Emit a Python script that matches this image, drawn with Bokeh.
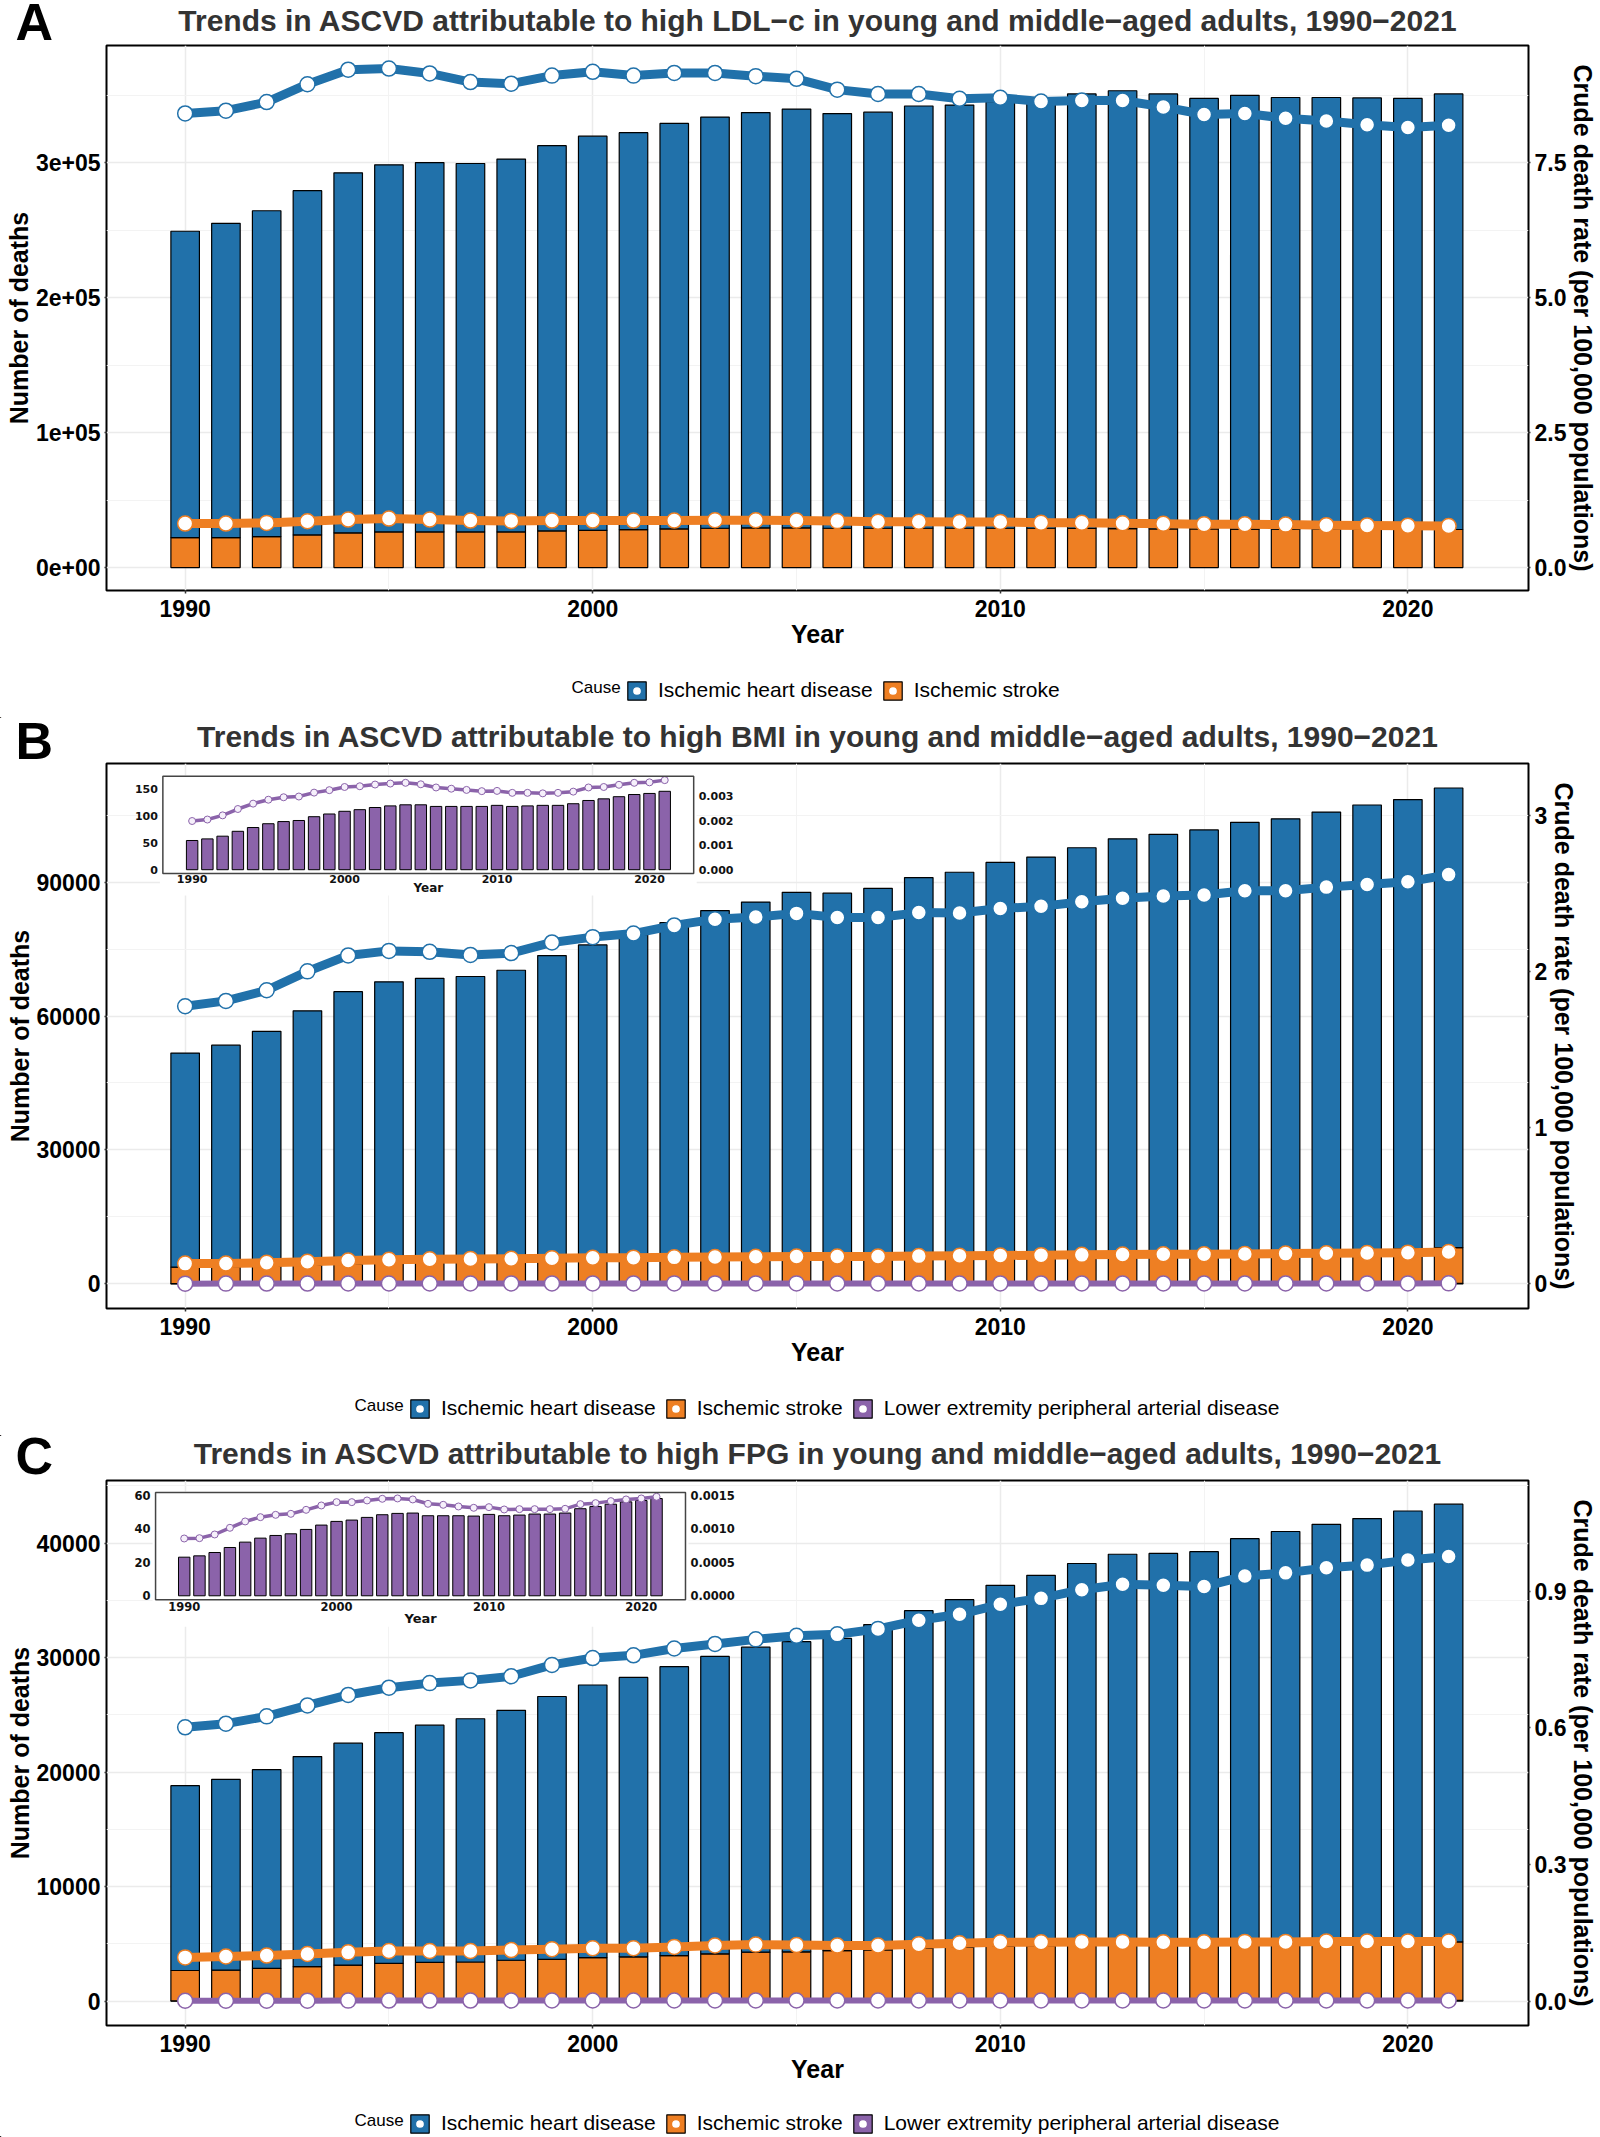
from bokeh.plotting import figure
from bokeh.layouts import column
from bokeh.models import (ColumnDataSource, Range1d, LinearAxis, FixedTicker,
                          Legend, LegendItem, Plot)
from bokeh.core.properties import value
from bokeh.embed import file_html
from bokeh.resources import INLINE

# ---------------------------------------------------------------- data
years = list(range(1990, 2022))

# A: high LDL-c
ldl_ihd_deaths = [226900, 232800, 241400, 255000, 266700, 271900, 273600, 272900,
                  276200, 285400, 291900, 294000, 300400, 304600, 307600, 310200,
                  307200, 308200, 312800, 313500, 316100, 317100, 321800, 324300,
                  322100, 318900, 321300, 319800, 319800, 319600, 319200, 322600]
ldl_stroke_deaths = [22200, 22200, 22900, 24200, 25700, 26400, 26400, 26400,
                     26400, 27100, 27600, 28100, 28600, 29100, 29400, 29400,
                     29100, 29100, 29100, 29100, 29100, 29100, 29000, 28900,
                     28700, 28600, 28500, 28400, 28400, 28300, 28300, 28200]
ldl_ihd_rate = [8.41, 8.46, 8.62, 8.95, 9.22, 9.24, 9.15, 8.99, 8.96, 9.11, 9.18,
                9.11, 9.16, 9.16, 9.10, 9.05, 8.85, 8.77, 8.77, 8.68, 8.70, 8.63,
                8.65, 8.65, 8.53, 8.39, 8.41, 8.32, 8.27, 8.20, 8.15, 8.19]
ldl_stroke_rate = [0.814, 0.814, 0.827, 0.858, 0.888, 0.907, 0.888, 0.870, 0.864,
                   0.870, 0.870, 0.870, 0.870, 0.876, 0.876, 0.870, 0.860, 0.850,
                   0.850, 0.845, 0.845, 0.830, 0.830, 0.820, 0.810, 0.800, 0.800,
                   0.795, 0.785, 0.780, 0.775, 0.770]

# B: high BMI
bmi_ihd_deaths = [47940, 49620, 52620, 57000, 60980, 62970, 63560, 63860, 65150,
                  68240, 70520, 72720, 75300, 77900, 79690, 81890, 81690, 82680,
                  84980, 86080, 88170, 89270, 91270, 93060, 93960, 94860, 96340,
                  96940, 98240, 99620, 100620, 102920]
bmi_stroke_deaths = [3700, 3800, 3900, 4100, 4400, 4600, 4800, 4900, 5000, 5200,
                     5300, 5400, 5500, 5600, 5700, 5700, 5700, 5800, 5900, 6000,
                     6100, 6200, 6300, 6500, 6600, 6700, 6900, 7100, 7300, 7500,
                     7700, 8000]
bmi_pad_deaths = [54, 57, 62, 71, 78, 85, 89, 91, 98, 103, 108, 111, 115, 118, 120,
                  120, 117, 117, 117, 117, 119, 117, 118, 119, 119, 122, 128, 131,
                  135, 139, 141, 145]
bmi_ihd_rate = [1.777, 1.811, 1.879, 2.000, 2.102, 2.131, 2.125, 2.105, 2.117,
                2.185, 2.219, 2.242, 2.294, 2.334, 2.348, 2.371, 2.345, 2.345,
                2.376, 2.374, 2.402, 2.416, 2.445, 2.468, 2.482, 2.488, 2.516,
                2.516, 2.539, 2.556, 2.573, 2.619]
bmi_stroke_rate = [0.130, 0.131, 0.135, 0.142, 0.150, 0.155, 0.158, 0.160, 0.161,
                   0.165, 0.167, 0.168, 0.170, 0.172, 0.174, 0.175, 0.175, 0.176,
                   0.178, 0.180, 0.182, 0.184, 0.186, 0.188, 0.190, 0.190, 0.192,
                   0.194, 0.196, 0.198, 0.200, 0.204]
bmi_pad_rate = [0.00199, 0.00205, 0.00222, 0.00248, 0.00270, 0.00286, 0.00296,
                0.00299, 0.00315, 0.00325, 0.00338, 0.00341, 0.00348, 0.00352,
                0.00355, 0.00349, 0.00336, 0.00331, 0.00326, 0.00321, 0.00322,
                0.00314, 0.00314, 0.00312, 0.00314, 0.00319, 0.00336, 0.00338,
                0.00347, 0.00355, 0.00357, 0.00366]

# C: high FPG
fpg_ihd_deaths = [16150, 16670, 17360, 18350, 19380, 20150, 20720, 21250, 21830,
                  22970, 23820, 24410, 25240, 25980, 26640, 27090, 27270, 28430,
                  29510, 30370, 31530, 32350, 33310, 34060, 34100, 34230, 35330,
                  35920, 36520, 37010, 37660, 38240]
fpg_stroke_deaths = [2650, 2680, 2830, 2980, 3120, 3270, 3350, 3380, 3530, 3600,
                     3750, 3820, 3930, 4080, 4230, 4260, 4370, 4420, 4550, 4650,
                     4740, 4800, 4870, 4930, 4960, 4980, 5020, 5050, 5080, 5090,
                     5100, 5110]
fpg_pad_deaths = [23.1, 23.9, 25.9, 28.9, 32.1, 34.5, 36.1, 37.1, 39.7, 42.3, 44.5,
                  45.3, 46.9, 48.5, 49.3, 49.5, 47.9, 47.9, 47.9, 47.7, 48.7, 47.9,
                  48.3, 48.9, 48.9, 49.5, 52.1, 53.4, 54.8, 56.2, 57.0, 58.2]
fpg_ihd_rate = [0.601, 0.609, 0.625, 0.649, 0.672, 0.688, 0.698, 0.704, 0.713,
                0.738, 0.753, 0.759, 0.774, 0.784, 0.794, 0.802, 0.805, 0.817,
                0.836, 0.849, 0.871, 0.884, 0.903, 0.915, 0.913, 0.910, 0.933,
                0.940, 0.951, 0.957, 0.968, 0.976]
fpg_stroke_rate = [0.096, 0.098, 0.100, 0.1035, 0.107, 0.110, 0.110, 0.110, 0.112,
                   0.114, 0.116, 0.116, 0.119, 0.122, 0.124, 0.123, 0.122, 0.122,
                   0.125, 0.127, 0.129, 0.129, 0.130, 0.130, 0.129, 0.129, 0.130,
                   0.130, 0.131, 0.131, 0.131, 0.131]
fpg_pad_rate = [0.000857, 0.000862, 0.000917, 0.001017, 0.001112, 0.001176,
                0.001211, 0.001226, 0.001286, 0.001351, 0.001401, 0.001401,
                0.001426, 0.001451, 0.001456, 0.001441, 0.001376, 0.001361,
                0.001336, 0.001316, 0.001326, 0.001291, 0.001296, 0.001296,
                0.001296, 0.001301, 0.001371, 0.001386, 0.001416, 0.001441,
                0.001456, 0.001481]

cause_labels = ["Ischemic heart disease", "Ischemic stroke",
                "Lower extremity peripheral arterial disease"]
year_ticks = [1990, 2000, 2010, 2020]
year_labels = ["1990", "2000", "2010", "2020"]

# ---------------------------------------------------------------- style
W = 1600
FRAME_L, FRAME_R = 106, 1529
X_LO, X_HI = 1988.07, 2022.96
FONT = "Liberation Sans"
INSET_FONT = "DejaVu Sans"
BLUE, ORANGE, PURPLE = "#2171aa", "#ee7f23", "#8b63aa"
COLORS = {"ihd": BLUE, "stroke": ORANGE, "pad": PURPLE}
LABELS = dict(zip(["ihd", "stroke", "pad"], cause_labels))
LINE_W = {"ihd": 9, "stroke": 9, "pad": 6}
MAIN_TOP, FRAME_H, MAIN_BOTTOM = 2, 545, 78

# header and legend strips keep their own full-canvas frame
NO_ALIGN = {"frame_align": False} if "frame_align" in Plot.properties() else {}


def blank(height):
    """A figure whose frame fills the canvas and whose units are pixels."""
    kw = dict(width=W, height=height, x_range=Range1d(0, W), y_range=Range1d(0, height),
              min_border=0, min_border_left=0, min_border_right=0,
              min_border_top=0, min_border_bottom=0,
              x_axis_type=None, y_axis_type=None,
              output_backend="svg", toolbar_location=None, **NO_ALIGN)
    try:
        f = figure(title_location=None, **kw)
    except Exception:
        f = figure(**kw)
        f.title.text_font_size = "0px"
        f.title.standoff = 0
    f.grid.visible = False
    f.outline_line_color = None
    f.background_fill_color = "white"
    f.border_fill_color = "white"
    return f


def header(letter, title, height, letter_mid, title_mid):
    """Panel letter and title; *_mid are the vertical centres in px from the top."""
    f = blank(height)
    f.text(x=[15], y=[height - letter_mid], text=[letter], text_font=value(FONT),
           text_font_size="52px", text_font_style="bold", text_color="black",
           text_baseline="middle", text_align="left")
    f.text(x=[(FRAME_L + FRAME_R) / 2], y=[height - title_mid], text=[title],
           text_font=value(FONT), text_font_size="30px", text_font_style="bold",
           text_color="#333333", text_baseline="middle", text_align="center")
    return f


def legend_strip(causes, height, center, cause_x, legend_x):
    f = blank(height)
    items = []
    for c in ["ihd", "stroke", "pad"]:
        if c not in causes:
            continue
        # off-canvas stand-ins that give the legend its key glyphs
        rb = f.vbar(x=[-500], top=[1], width=1, fill_color=COLORS[c],
                    line_color="black", line_width=1.2)
        rd = f.scatter(x=[-500], y=[0], size=15, fill_color="white",
                       line_color=COLORS[c], line_width=1.5)
        items.append(LegendItem(label=LABELS[c], renderers=[rb, rd]))
    leg = Legend(items=items, orientation="horizontal",
                 location=(legend_x, height - center - 15),
                 glyph_width=23, glyph_height=23, label_standoff=10, spacing=8,
                 padding=2, margin=0, border_line_color=None,
                 background_fill_alpha=0, label_text_font=FONT,
                 label_text_font_size="21px", label_text_color="black")
    f.add_layout(leg, "center")
    f.text(x=[cause_x], y=[height - center], text=["Cause"], text_font=value(FONT),
           text_font_size="17px", text_color="black", text_baseline="middle",
           text_align="left")
    return f


def style_axis(ax, tick_out, label_standoff, title_standoff):
    ax.axis_line_color = None
    ax.major_tick_line_color = "#333333"
    ax.major_tick_line_width = 1.5
    ax.major_tick_out = tick_out
    ax.major_tick_in = 0
    ax.minor_tick_line_color = None
    ax.major_label_standoff = label_standoff
    ax.major_label_text_font = FONT
    ax.major_label_text_font_size = "23px"
    ax.major_label_text_font_style = "bold"
    ax.major_label_text_color = "black"
    ax.axis_label_text_font = FONT
    ax.axis_label_text_font_size = "25px"
    ax.axis_label_text_font_style = "bold"
    ax.axis_label_text_color = "black"
    ax.axis_label_standoff = title_standoff


def add_inset(p, xd, yd, spec, src):
    l, r, t, b = spec["frame"]
    x0, x1 = spec["x_src"]
    y0, y1 = spec["y_src"]
    k = spec["factor"]
    # white backing that hides the main grid under the inset
    p.quad(left=[xd(l - 3)], right=[xd(r + 3)], top=[yd(t - 1)],
           bottom=[yd(b + spec["year_dy"] + 8)], fill_color="white", line_color=None)
    tx = Range1d(xd(l), xd(r))
    ty = Range1d(yd(b), yd(t))
    dsub = p.subplot(x_source=Range1d(x0, x1), y_source=Range1d(y0, y1),
                     x_target=tx, y_target=ty)
    rsub = p.subplot(x_source=Range1d(x0, x1), y_source=Range1d(y0 / k, y1 / k),
                     x_target=tx, y_target=ty)
    dsub.vbar(x="year", top="pad", bottom=0, width=0.75, fill_color=PURPLE,
              line_color="black", line_width=1, source=src)
    rsub.line(x="year", y="pad_rate", line_width=3.5, color=PURPLE, source=src)
    rsub.scatter(x="year", y="pad_rate", size=7, fill_color="#f6f0fb",
                 line_color=PURPLE, line_width=1, source=src)
    dsub.quad(left=[x0], right=[x1], bottom=[y0], top=[y1], fill_color=None,
              line_color="#444444", line_width=1.5)
    tkw = dict(text_font=value(INSET_FONT), text_font_size=spec["font"],
               text_font_style="bold", text_color="#111111")
    lt = spec["left_ticks"]
    dsub.text(x=[x0] * len(lt), y=lt, text=spec["left_labels"], text_align="right",
              text_baseline="middle", x_offset=-5, **tkw)
    rt = spec["right_ticks"]
    rsub.text(x=[x1] * len(rt), y=rt, text=spec["right_labels"], text_align="left",
              text_baseline="middle", x_offset=5, **tkw)
    dsub.text(x=year_ticks, y=[y0] * len(year_ticks), text=year_labels,
              text_align="center", text_baseline="middle", y_offset=spec["tick_dy"], **tkw)
    dsub.text(x=[(x0 + x1) / 2], y=[y0], text=["Year"], text_align="center",
              text_baseline="middle", y_offset=spec["year_dy"],
              text_font=value(INSET_FONT), text_font_size=spec["title_font"],
              text_font_style="bold", text_color="#111111")


def main_plot(y_lo, y_hi, rate_factor, left_ticks, left_labels, left_minor,
              right_ticks, right_labels, data, causes, inset=None):
    src = ColumnDataSource(data)
    p = figure(width=W, height=MAIN_TOP + FRAME_H + MAIN_BOTTOM,
               x_range=Range1d(X_LO, X_HI), y_range=Range1d(y_lo, y_hi),
               min_border_left=FRAME_L, min_border_right=W - FRAME_R,
               min_border_top=MAIN_TOP, min_border_bottom=MAIN_BOTTOM,
               output_backend="svg", toolbar_location=None)
    p.extra_y_ranges = {"rate": Range1d(y_lo / rate_factor, y_hi / rate_factor)}
    p.outline_line_color = "black"
    p.outline_line_width = 2
    p.outline_line_alpha = 1
    p.background_fill_color = "white"
    p.border_fill_color = "white"

    xa = p.xaxis[0]
    xa.ticker = FixedTicker(ticks=year_ticks, minor_ticks=[1995, 2005, 2015])
    xa.axis_label = "Year"
    style_axis(xa, 3, 5, 0)
    ya = p.yaxis[0]
    ya.ticker = FixedTicker(ticks=left_ticks, minor_ticks=left_minor)
    ya.major_label_overrides = dict(zip(left_ticks, left_labels))
    ya.axis_label = "Number of deaths"
    style_axis(ya, 2, 2, 0)
    ra = LinearAxis(y_range_name="rate", ticker=FixedTicker(ticks=right_ticks),
                    axis_label="Crude death rate (per 100,000 populations)")
    ra.major_label_overrides = dict(zip(right_ticks, right_labels))
    style_axis(ra, 2, 4, 0)
    p.add_layout(ra, "right")

    for g in (p.xgrid[0], p.ygrid[0]):
        g.grid_line_color = "#ebebeb"
        g.grid_line_width = 1.5
        g.minor_grid_line_color = "#f3f3f3"
        g.minor_grid_line_width = 1

    # stacked bars, first cause at the bottom
    p.vbar_stack([c for c in causes], x="year", width=0.7,
                 fill_color=[COLORS[c] for c in causes], line_color="black",
                 line_width=1.2, source=src)

    for c in ["ihd", "stroke", "pad"]:
        if c not in causes:
            continue
        p.line(x="year", y=c + "_rate", y_range_name="rate", line_width=LINE_W[c],
               color=COLORS[c], line_join="round", line_cap="round", source=src)
        p.scatter(x="year", y=c + "_rate", y_range_name="rate", size=15,
                  fill_color="white", line_color=COLORS[c], line_width=1.5, source=src)

    if inset is not None:
        def xd(px):
            return X_LO + (px - FRAME_L) / (FRAME_R - FRAME_L) * (X_HI - X_LO)

        def yd(py):
            return y_hi - (py - MAIN_TOP) / FRAME_H * (y_hi - y_lo)
        add_inset(p, xd, yd, inset, src)
    return p


TITLE = "Trends in ASCVD attributable to high {} in young and middle\u2212aged adults, 1990\u22122021"

hA = header("A", TITLE.format("LDL\u2212c"), 43, 21.5, 19.5)
pA = main_plot(
    -17000, 386700, 40000,
    [0, 100000, 200000, 300000], ["0e+00", "1e+05", "2e+05", "3e+05"],
    [50000, 150000, 250000, 350000],
    [0, 2.5, 5, 7.5], ["0.0", "2.5", "5.0", "7.5"],
    dict(year=years, ihd=ldl_ihd_deaths, stroke=ldl_stroke_deaths,
         ihd_rate=ldl_ihd_rate, stroke_rate=ldl_stroke_rate),
    ["stroke", "ihd"])
lA = legend_strip(["stroke", "ihd"], 50, 19, 571, 625)

hB = header("B", TITLE.format("BMI"), 43, 22.5, 18)
pB = main_plot(
    -5500, 116550, 35000,
    [0, 30000, 60000, 90000], ["0", "30000", "60000", "90000"],
    [15000, 45000, 75000, 105000],
    [0, 1, 2, 3], ["0", "1", "2", "3"],
    dict(year=years, ihd=bmi_ihd_deaths, stroke=bmi_stroke_deaths, pad=bmi_pad_deaths,
         ihd_rate=bmi_ihd_rate, stroke_rate=bmi_stroke_rate, pad_rate=bmi_pad_rate),
    ["pad", "stroke", "ihd"],
    inset=dict(frame=(162.4, 693.6, 14.8, 112.1), x_src=(1988.08, 2022.9),
               y_src=(-7.2, 172.7), factor=45250,
               left_ticks=[0, 50, 100, 150], left_labels=["0", "50", "100", "150"],
               right_ticks=[0, 0.001, 0.002, 0.003],
               right_labels=["0.000", "0.001", "0.002", "0.003"],
               font="11px", title_font="12px", tick_dy=5, year_dy=14))
lB = legend_strip(["pad", "stroke", "ihd"], 50, 19, 354, 408)

hC = header("C", TITLE.format("FPG"), 42, 19, 17)
pC = main_plot(
    -2130, 45480, 39800,
    [0, 10000, 20000, 30000, 40000], ["0", "10000", "20000", "30000", "40000"],
    [5000, 15000, 25000, 35000, 45000],
    [0, 0.3, 0.6, 0.9], ["0.0", "0.3", "0.6", "0.9"],
    dict(year=years, ihd=fpg_ihd_deaths, stroke=fpg_stroke_deaths, pad=fpg_pad_deaths,
         ihd_rate=fpg_ihd_rate, stroke_rate=fpg_stroke_rate, pad_rate=fpg_pad_rate),
    ["pad", "stroke", "ihd"],
    inset=dict(frame=(155.1, 685.4, 14.0, 121.3), x_src=(1988.12, 2022.9),
               y_src=(-2.4, 61.8), factor=40000,
               left_ticks=[0, 20, 40, 60], left_labels=["0", "20", "40", "60"],
               right_ticks=[0, 0.0005, 0.001, 0.0015],
               right_labels=["0.0000", "0.0005", "0.0010", "0.0015"],
               font="11.5px", title_font="13px", tick_dy=7, year_dy=19))
lC = legend_strip(["pad", "stroke", "ihd"], 34, 17, 354, 408)

page = column(hA, pA, lA, hB, pB, lB, hC, pC, lC, spacing=0)
open("out.html", "w").write(file_html(page, INLINE))
